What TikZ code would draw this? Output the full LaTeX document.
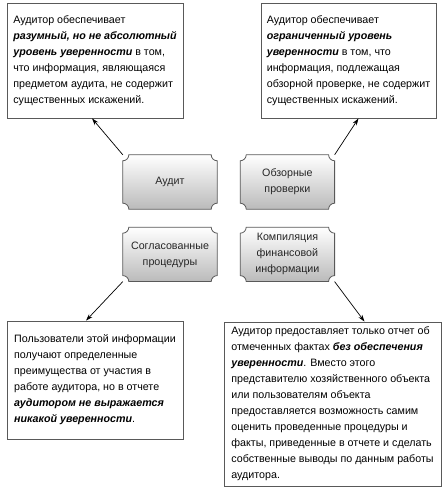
\documentclass[tikz,border=0pt]{standalone}
\usepackage{fontspec}
\setmainfont{Liberation Sans}
\usetikzlibrary{positioning,arrows.meta,backgrounds}

\newcommand{\bi}[1]{\textbf{\textit{#1}}}
% plaque outline with concave corners round a named node
\newcommand{\plaque}[1]{%
  \shade[plqfill] ([yshift=-6pt]#1.north west) arc[start angle=-90, end angle=0, radius=6pt]
    -- ([xshift=-6pt]#1.north east) arc[start angle=180, end angle=270, radius=6pt]
    -- ([yshift=6pt]#1.south east) arc[start angle=90, end angle=180, radius=6pt]
    -- ([xshift=6pt]#1.south west) arc[start angle=0, end angle=90, radius=6pt]
    -- cycle;}

\begin{document}
\begin{tikzpicture}[
      x=1pt, y=1pt,
      font=\fontsize{10.7}{16}\selectfont,
      txtbox/.style={draw=black!65, line width=0.8pt, fill=white, align=left, inner sep=0pt},
      plq/.style={minimum width=94pt, minimum height=54pt, align=center, inner sep=0pt,
                  text=black!85},
      plqfill/.style={draw=black!65, line width=0.8pt, top color=white,
                      middle color=black!9, bottom color=black!27},
      arr/.style={-{Stealth[length=7pt, width=4.5pt]}, line width=0.7pt},
    ]
    \useasboundingbox (0,0) rectangle (444,493);

    % ---------- text boxes ----------
    \node[txtbox, minimum width=176pt, minimum height=115pt] (tl) at (95,432.5)
      {Аудитор обеспечивает\\\bi{разумный, но не абсолютный}\\\bi{уровень уверенности} в том,\\что информация, являющаяся\\предметом аудита, не содержит\\существенных искажений.};
    \node[txtbox, minimum width=175pt, minimum height=115pt] (tr) at (348.5,432.5)
      {Аудитор обеспечивает\\\bi{ограниченный уровень}\\\bi{уверенности} в том, что\\информация, подлежащая\\обзорной проверке, не содержит\\существенных искажений.};
    \node[txtbox, minimum width=176pt, minimum height=118pt] (bl) at (95,113)
      {Пользователи этой информации\\получают определенные\\преимущества от участия в\\работе аудитора, но в отчете\\\bi{аудитором не выражается}\\\bi{никакой уверенности}.};
    \node[txtbox, minimum width=217pt, minimum height=164pt] (br) at (332.5,89)
      {Аудитор предоставляет только отчет об\\отмеченных фактах \bi{без обеспечения}\\\bi{уверенности}. Вместо этого\\представителю хозяйственного объекта\\или пользователям объекта\\предоставляется возможность самим\\оценить проведенные процедуры и\\факты, приведенные в отчете и сделать\\собственные выводы по данным работы\\аудитора.};

    % ---------- four kinds of engagement ----------
    \node[plq] (audit) at (170,311) {Аудит};
    \node[plq, right=23pt of audit] (review) {Обзорные\\проверки};
    \node[plq, below=18pt of audit] (agreed) {Согласованные\\процедуры};
    \node[plq, right=23pt of agreed] (compil) {Компиляция\\финансовой\\информации};

    \begin{scope}[on background layer]
      \foreach \n in {audit,review,agreed,compil} {\plaque{\n}}
    \end{scope}

    \draw[arr] (audit.north west) -- ([xshift=-3pt]tl.south);
    \draw[arr] (review.north east) -- ([xshift=10pt]tr.south);
    \draw[arr] (agreed.south west) -- ([xshift=-9pt]bl.north);
    \draw[arr] (compil.south east) -- ([xshift=32pt]br.north);
  \end{tikzpicture}
\end{document}
